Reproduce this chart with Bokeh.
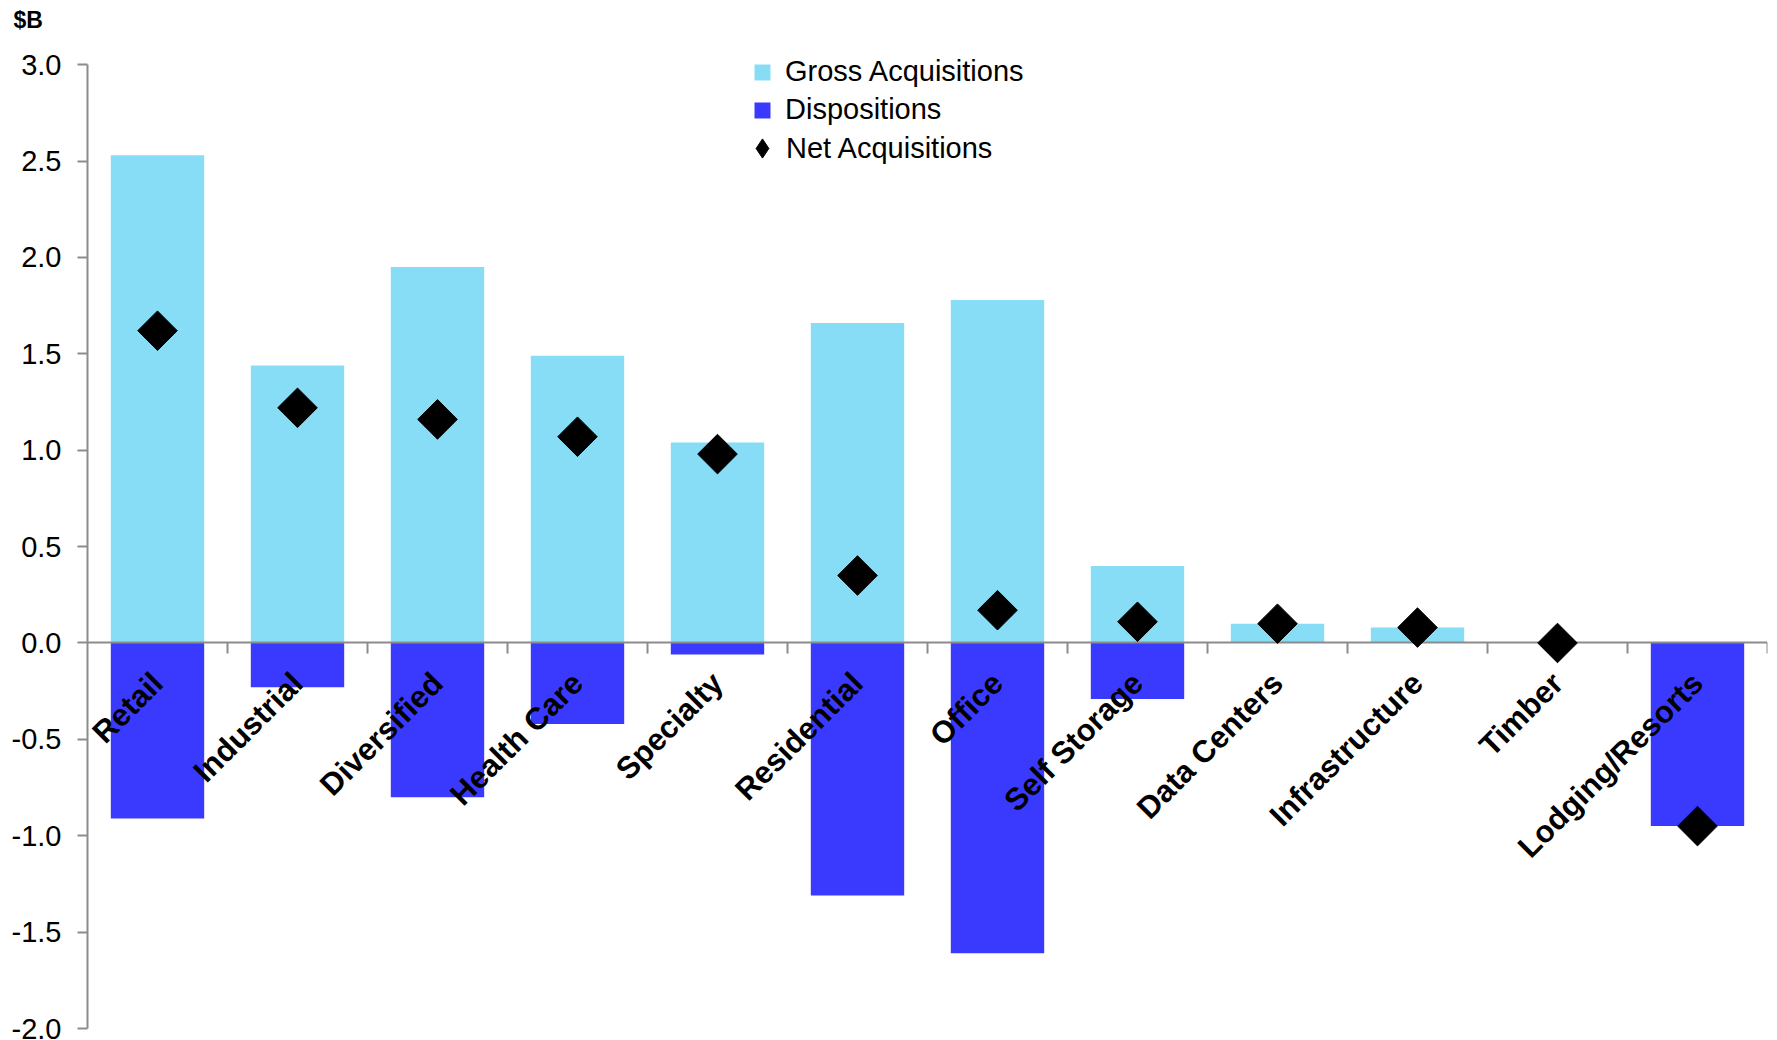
import math
from bokeh.plotting import figure
from bokeh.models import (Range1d, FactorRange, FixedTicker, NumeralTickFormatter,
                          Legend, LegendItem, Title, ColumnDataSource)
from bokeh.core.properties import value
from bokeh.embed import file_html
from bokeh.resources import INLINE

categories = ["Retail", "Industrial", "Diversified", "Health Care", "Specialty",
              "Residential", "Office", "Self Storage", "Data Centers",
              "Infrastructure", "Timber", "Lodging/Resorts"]
gross_acq = [2.53, 1.44, 1.95, 1.49, 1.04, 1.66, 1.78, 0.40, 0.10, 0.08, 0.0, 0.0]
dispositions = [-0.91, -0.23, -0.80, -0.42, -0.06, -1.31, -1.61, -0.29, 0.0, 0.0, 0.0, -0.95]
net_acq = [1.62, 1.22, 1.16, 1.07, 0.98, 0.35, 0.17, 0.11, 0.10, 0.08, 0.0, -0.95]
y_ticks = [-2.0, -1.5, -1.0, -0.5, 0.0, 0.5, 1.0, 1.5, 2.0, 2.5, 3.0]

GROSS_COLOR = "#86DDF5"
DISP_COLOR = "#3A3AFF"
AXIS_COLOR = "#8C8C8C"
FONT = "Liberation Sans"

src = ColumnDataSource(dict(cat=categories, gross=gross_acq, disp=dispositions, net=net_acq))

title = Title(text="$B", align="left", vertical_align="top", offset=-74, standoff=8,
              text_font=FONT, text_font_style="bold", text_font_size="23px",
              text_color="black")

p = figure(width=1777, height=1040, output_backend="svg", toolbar_location=None,
           x_range=FactorRange(factors=categories, range_padding=0),
           y_range=Range1d(-2.0, 3.136), title=title,
           min_border_left=87, min_border_right=10, min_border_top=38, min_border_bottom=12)
p.outline_line_color = None
p.xgrid.visible = False
p.ygrid.visible = False
p.xaxis.visible = False

ya = p.yaxis[0]
ya.bounds = (-2.0, 3.0)
ya.ticker = FixedTicker(ticks=y_ticks)
ya.formatter = NumeralTickFormatter(format="0.0")
ya.axis_line_color = AXIS_COLOR
ya.axis_line_width = 2
ya.major_tick_line_color = AXIS_COLOR
ya.major_tick_line_width = 2
ya.major_tick_out = 10
ya.major_tick_in = 0
ya.minor_tick_line_color = None
ya.major_label_standoff = 16
ya.major_label_text_font = FONT
ya.major_label_text_font_size = "29px"
ya.major_label_text_color = "#000000"

r_gross = p.vbar(x="cat", top="gross", bottom=0, width=0.667, source=src,
                 fill_color=GROSS_COLOR, line_color=None)
r_disp = p.vbar(x="cat", top=0, bottom="disp", width=0.667, source=src,
                fill_color=DISP_COLOR, line_color=None)

# zero axis line and category boundary ticks
p.hspan(y=[0], line_color=AXIS_COLOR, line_width=2)
bounds = list(range(1, len(categories) + 1))
p.segment(x0=bounds, x1=bounds, y0=[0] * len(bounds), y1=[-0.055] * len(bounds),
          line_color=AXIS_COLOR, line_width=2)

r_net = p.scatter(x="cat", y="net", source=src, marker="square", angle=math.pi / 4,
                  size=28, fill_color="black", line_color="black")
# legend-only proxy for the diamond symbol (NaN point: nothing drawn in the plot)
r_net_leg = p.scatter(x=[categories[0]], y=[float("nan")], marker="diamond", size=20,
                      fill_color="black", line_color="black")

# rotated category labels
p.text(x="cat", y=0, text="cat", source=src, angle=math.pi / 4,
       x_offset=0, y_offset=35, text_align="right", text_baseline="alphabetic",
       text_font=value(FONT), text_font_style="bold", text_font_size="31px",
       text_color="black")

leg1 = Legend(items=[LegendItem(label="Gross Acquisitions", renderers=[r_gross]),
                     LegendItem(label="Dispositions", renderers=[r_disp])],
              location=(665, 902), glyph_width=20, glyph_height=20, label_standoff=13,
              spacing=5, padding=0, margin=0, border_line_color=None,
              background_fill_alpha=0, label_text_font=FONT,
              label_text_font_size="29px", label_text_color="black")
leg2 = Legend(items=[LegendItem(label="Net Acquisitions", renderers=[r_net_leg])],
              location=(651, 856), glyph_width=48, glyph_height=48, label_standoff=0,
              spacing=0, padding=0, margin=0, border_line_color=None,
              background_fill_alpha=0, label_text_font=FONT,
              label_text_font_size="29px", label_text_color="black")
p.add_layout(leg1)
p.add_layout(leg2)

open("out.html", "w").write(file_html(p, INLINE))
